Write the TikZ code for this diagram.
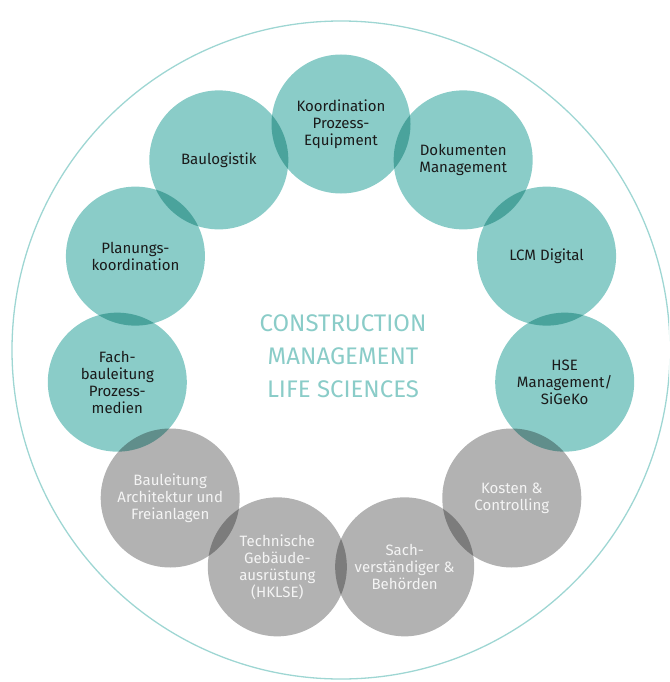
\documentclass[tikz,border=0pt]{standalone}
\usepackage{fontspec}
\setmainfont{Fira Sans}
\usepackage{tikz}
\usetikzlibrary{calc}
\definecolor{tealfill}{HTML}{8ACCC8}
\definecolor{greyfill}{HTML}{B2B2B2}
\definecolor{ringline}{HTML}{9ED6D3}
\definecolor{darktext}{HTML}{1A1A1A}
\definecolor{lighttext}{HTML}{F4F4F4}

\begin{document}
\begin{tikzpicture}[x=1pt, y=-1pt,
		bubble/.style={circle, minimum size=139pt, inner sep=0pt},
		darklbl/.style={align=center, font=\fontsize{15}{17}\selectfont, text=darktext},
		lightlbl/.style={align=center, font=\fontsize{15}{17}\selectfont, text=lighttext}]
		\useasboundingbox (0,0) rectangle (669,682);
		\clip (0,0) rectangle (669,682);
		% outer ring
		\node[circle, draw=ringline, line width=1.3pt, minimum size=658pt, inner sep=0pt] (ring) at (341,350) {};
		% bubbles (overlaps darken)
		\begin{scope}[blend group=multiply]
			\foreach \name/\col [count=\i from 0] in {koord/tealfill, doku/tealfill, lcm/tealfill, hse/tealfill, kosten/greyfill, sach/greyfill, tga/greyfill, bauleit/greyfill, fach/tealfill, planung/tealfill, logistik/tealfill}
				\node[bubble, fill=\col] (\name) at ($(ring.center)+({90-\i*360/11}:226pt)$) {};
		\end{scope}
		% labels
		\node[darklbl] (koord-t) at (koord) {Koordination\\Prozess-\\Equipment};
		\node[darklbl] (doku-t) at (doku) {Dokumenten\\Management};
		\node[darklbl] (lcm-t) at (lcm) {LCM Digital};
		\node[darklbl] (hse-t) at (hse) {HSE\\Management/\\SiGeKo};
		\node[lightlbl] (kosten-t) at (kosten) {Kosten \&\\Controlling};
		\node[lightlbl] (sach-t) at (sach) {Sach-\\verständiger \&\\Behörden};
		\node[lightlbl] (tga-t) at (tga) {Technische\\Gebäude-\\ausrüstung\\(HKLSE)};
		\node[lightlbl] (bauleit-t) at (bauleit) {Bauleitung\\Architektur und\\Freianlagen};
		\node[darklbl] (fach-t) at (fach) {Fach-\\bauleitung\\Prozess-\\medien};
		\node[darklbl] (planung-t) at (planung) {Planungs-\\koordination};
		\node[darklbl] (logistik-t) at (logistik) {Baulogistik};
		% centre
		\node[align=center, text=tealfill, font=\fontsize{24}{33}\selectfont] (title) at (343,356) {CONSTRUCTION\\MANAGEMENT\\LIFE SCIENCES};
	\end{tikzpicture}
\end{document}
